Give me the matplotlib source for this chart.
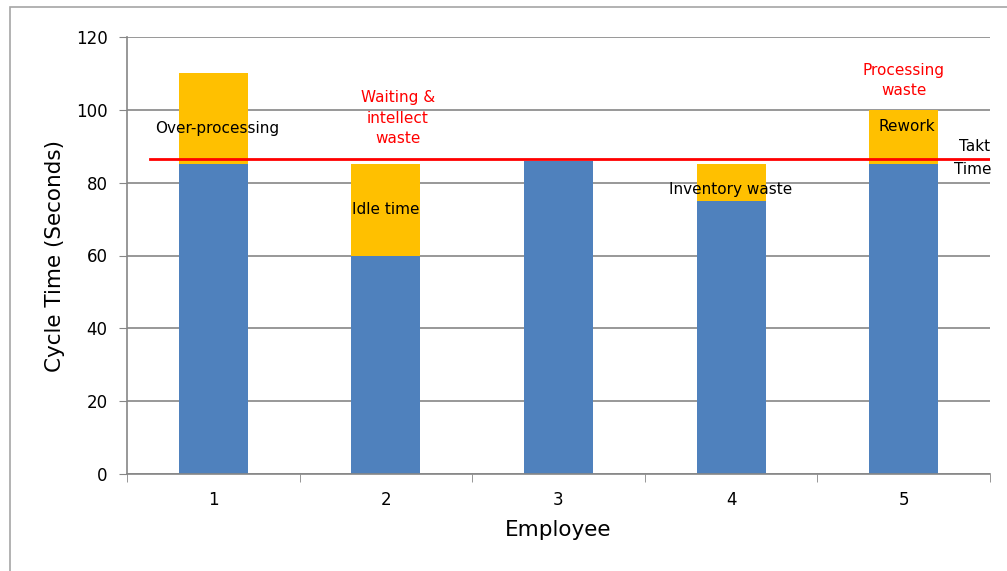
import matplotlib.pyplot as plt
from matplotlib.patches import Rectangle
import numpy as np

employees = ["1", "2", "3", "4", "5"]
value_added = [85, 60, 86, 75, 85]
waste = [25, 25, 0, 10, 15]
takt_time = 86.5

plt.rcParams['font.family'] = ['DejaVu Sans']

fig = plt.figure(figsize=(10.07, 5.71), dpi=100)
ax = fig.add_axes([127 / 1007, 1 - 474 / 571, (990 - 127) / 1007, (474 - 37) / 571])

# outer chart border
fig.patches.append(Rectangle((10 / 1007, -0.1), 1.2, 1 - 7 / 571 + 0.1,
                             transform=fig.transFigure, fill=False,
                             edgecolor='#a6a6a6', linewidth=1.2))

x = np.arange(len(employees))
ax.bar(x, value_added, width=0.4, color='#4f81bd', zorder=2)
ax.bar(x, waste, width=0.4, bottom=value_added, color='#ffc000', zorder=2)

ax.plot([-0.367, 4.5], [takt_time, takt_time], color='#ff0000', lw=2, zorder=3)

ax.set_xlim(-0.5, 4.5)
ax.set_ylim(0, 120)
ax.set_yticks(range(0, 121, 20))
ax.set_xticks(x)
ax.set_xticklabels(employees)
ax.set_xticks(np.arange(-0.5, 5, 1), minor=True)
ax.tick_params(axis='x', which='major', length=0, pad=12, labelsize=12)
ax.tick_params(axis='x', which='minor', length=6, color='#868686')
ax.tick_params(axis='y', length=6, color='#868686', labelsize=12, pad=8)

ax.grid(axis='y', color='#868686', lw=1.2, zorder=0)
for s in ['top', 'right']:
    ax.spines[s].set_visible(False)
for s in ['left', 'bottom']:
    ax.spines[s].set_color('#868686')
    ax.spines[s].set_linewidth(1.2)

ax.set_xlabel("Employee", fontsize=15.5, labelpad=8)
ax.set_ylabel("Cycle Time (Seconds)", fontsize=15.5, labelpad=8)

# annotations
fs = 11
ax.text(0.02, 95, "Over-processing", ha='center', va='center', fontsize=fs)
ax.text(1.07, 97.7, "Waiting &\nintellect\nwaste", ha='center', va='center',
        fontsize=fs, color='#ff0000', linespacing=1.45)
ax.text(1.0, 72.5, "Idle time", ha='center', va='center', fontsize=fs)
ax.text(3.0, 78, "Inventory waste", ha='center', va='center', fontsize=fs)
ax.text(4.0, 108, "Processing\nwaste", ha='center', va='center',
        fontsize=fs, color='#ff0000', linespacing=1.45)
ax.text(4.02, 95.3, "Rework", ha='center', va='center', fontsize=fs)
ax.text(4.5, 90, "Takt", ha='right', va='center', fontsize=fs)
ax.text(4.51, 83.5, "Time", ha='right', va='center', fontsize=fs)

fig.savefig("out.png", dpi=100)
